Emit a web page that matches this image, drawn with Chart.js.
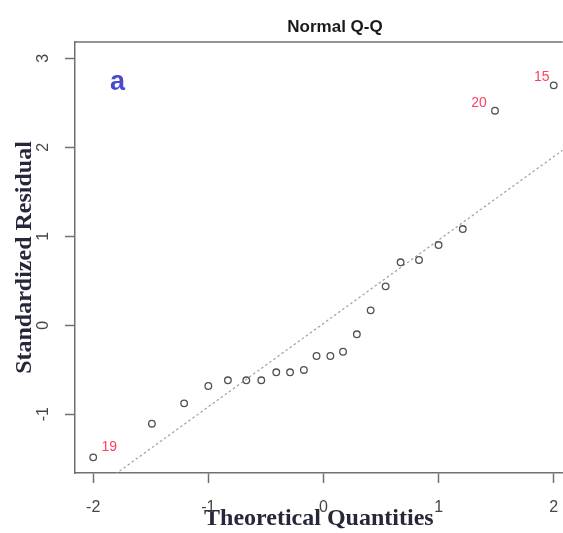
<!DOCTYPE html>
<html>
<head>
<meta charset="utf-8">
<script src="https://cdn.jsdelivr.net/npm/chart.js@4.4.1/dist/chart.umd.min.js"></script>
<style>
  html, body { margin: 0; padding: 0; background: #ffffff; overflow: hidden; }
  #wrap { width: 568px; height: 533px; position: relative; }
</style>
</head>
<body>
<div id="wrap"><canvas id="c"></canvas></div>
<script>
// ---- data ----
const theoreticalQ = [-2.00, -1.49, -1.21, -1.00, -0.83, -0.67, -0.54, -0.41, -0.29, -0.17, -0.06,
                       0.06,  0.17,  0.29,  0.41,  0.54,  0.67,  0.83,  1.00,  1.21,  1.49,  2.00];
const stdResid     = [-1.485, -1.107, -0.878, -0.683, -0.619, -0.619, -0.619, -0.529, -0.529, -0.503, -0.346,
                      -0.346, -0.298, -0.102,  0.167,  0.437,  0.707,  0.733,  0.901,  1.081,  2.411,  2.696];
const labeledIdx   = [0, 20, 21];
const labeledText  = ["19", "20", "15"];
const xTicks       = [-2, -1, 0, 1, 2];
const xTickLabels  = ["-2", "-1", "0", "1", "2"];
const yTicks       = [-1, 0, 1, 2, 3];
const yTickLabels  = ["-1", "0", "1", "2", "3"];
const qqSlope      = 0.937;
const qqIntercept  = 0.02;
const chartTitle   = "Normal Q-Q";
const panelLetter  = "a";
const xTitle       = "Theoretical Quantities";
const yTitle       = "Standardized Residual";

// ---- axis ranges ----
const xMin = -2.158, xMax = 2.078;
const yMin = -1.661, yMax = 3.183;

const points = theoreticalQ.map((x, i) => ({ x: x, y: stdResid[i] }));
const linePts = [xMin, xMax].map(x => ({ x: x, y: qqIntercept + qqSlope * x }));

const labelOffsets = [[16, -10], [-16, -7.5], [-12, -8]];

const decorPlugin = {
  id: 'decor',
  afterDraw(chart) {
    const ctx = chart.ctx;
    const a = chart.chartArea;
    ctx.save();
    // top frame line
    ctx.strokeStyle = '#707070';
    ctx.lineWidth = 1.5;
    ctx.beginPath();
    ctx.moveTo(a.left - 0.75, a.top);
    ctx.lineTo(a.right, a.top);
    ctx.stroke();
    // main title
    ctx.fillStyle = '#1a1a1a';
    ctx.font = 'bold 17px "Liberation Sans", Arial, sans-serif';
    ctx.textAlign = 'center';
    ctx.textBaseline = 'middle';
    ctx.fillText(chartTitle, 335, 27);
    // panel letter
    ctx.fillStyle = '#4949cf';
    ctx.font = 'bold 27px "Liberation Sans", Arial, sans-serif';
    ctx.textBaseline = 'alphabetic';
    ctx.fillText(panelLetter, 117.5, 89.5);
    // point labels
    const meta = chart.getDatasetMeta(1);
    ctx.fillStyle = '#ff4060';
    ctx.font = '14px "Liberation Sans", Arial, sans-serif';
    ctx.textBaseline = 'middle';
    labeledIdx.forEach((idx, k) => {
      const el = meta.data[idx];
      ctx.fillText(labeledText[k], el.x + labelOffsets[k][0], el.y + labelOffsets[k][1]);
    });
    ctx.restore();
  }
};

const axisColor = '#707070';
const tickFont = { family: '"Liberation Sans", Arial, sans-serif', size: 16 };
const titleFont = { family: '"Liberation Serif", "Times New Roman", serif', size: 24, weight: 'bold' };

new Chart(document.getElementById('c'), {
  data: {
    datasets: [
      {
        type: 'line',
        data: linePts,
        borderColor: '#a0a0a0',
        borderWidth: 1.2,
        borderDash: [2.5, 2.5],
        pointRadius: 0,
        fill: false,
        order: 2
      },
      {
        type: 'scatter',
        data: points,
        pointRadius: 3.3,
        pointBorderWidth: 1.3,
        pointBorderColor: '#505050',
        pointBackgroundColor: 'rgba(0,0,0,0)',
        order: 1
      }
    ]
  },
  options: {
    responsive: true,
    maintainAspectRatio: false,
    animation: false,
    events: [],
    layout: { padding: { top: 42, left: 0, right: 0, bottom: 0 } },
    plugins: { legend: { display: false }, tooltip: { enabled: false }, title: { display: false } },
    scales: {
      x: {
        type: 'linear',
        min: xMin, max: xMax,
        afterBuildTicks: s => { s.ticks = xTicks.map(v => ({ value: v })); },
        afterFit: s => { s.height = 60; s.paddingLeft = 0; s.paddingRight = 0; },
        grid: { drawOnChartArea: false, drawTicks: true, tickLength: 10, tickColor: axisColor, tickWidth: 1.5 },
        border: { display: true, color: axisColor, width: 1.5 },
        ticks: {
          font: tickFont, color: '#454545', padding: 15,
          minRotation: 0, maxRotation: 0, autoSkip: false,
          callback: (v, i) => xTickLabels[i]
        },
        title: { display: true, text: xTitle, font: titleFont, color: '#27273a', padding: { top: 0, bottom: 0 } }
      },
      y: {
        type: 'linear',
        min: yMin, max: yMax,
        afterBuildTicks: s => { s.ticks = yTicks.map(v => ({ value: v })); },
        afterFit: s => { s.width = 75; s.paddingTop = 0; s.paddingBottom = 0; },
        grid: { drawOnChartArea: false, drawTicks: true, tickLength: 10, tickColor: axisColor, tickWidth: 1.5 },
        border: { display: true, color: axisColor, width: 1.5 },
        ticks: {
          font: tickFont, color: '#454545', padding: 14,
          minRotation: 90, maxRotation: 90, crossAlign: 'center', autoSkip: false,
          callback: (v, i) => yTickLabels[i]
        },
        title: { display: true, text: yTitle, font: titleFont, color: '#27273a', padding: { top: 10.5, bottom: 0 } }
      }
    }
  },
  plugins: [decorPlugin]
});
</script>
</body>
</html>
